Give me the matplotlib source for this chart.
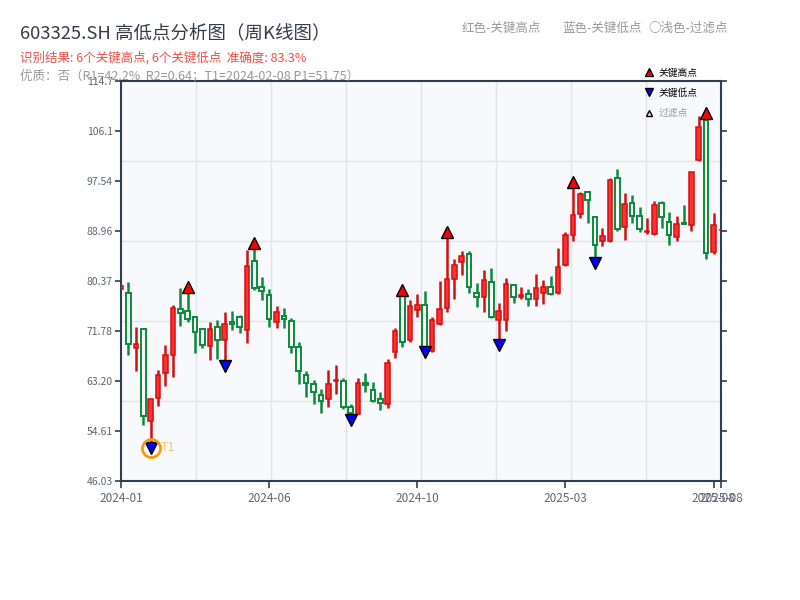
import numpy as np
import matplotlib
matplotlib.use('Agg')
import matplotlib.pyplot as plt
from matplotlib.lines import Line2D
from matplotlib.ticker import FixedLocator, FuncFormatter

plt.rcParams['font.family'] = ['Noto Sans CJK SC', 'DejaVu Sans']

# 周K线数据 (索引 0..81)
opens = [79.05, 78.25, 68.82, 72.07, 56.27, 60.22, 64.51, 67.60, 75.62, 75.16,
         74.13, 72.07, 69.15, 72.53, 70.24, 73.25, 74.13, 71.90, 83.86, 79.28,
         77.91, 73.27, 74.30, 73.44, 68.98, 64.28, 62.63, 60.74, 60.05, 63.20,
         63.14, 58.73, 57.47, 62.80, 61.60, 60.05, 59.19, 68.24, 77.85, 70.18,
         75.33, 76.19, 68.29, 72.93, 75.68, 80.66, 83.69, 85.00, 78.37, 77.57,
         80.20, 73.62, 73.62, 79.74, 77.57, 78.20, 77.22, 78.25, 79.28, 78.25,
         83.12, 88.21, 91.82, 95.60, 91.42, 87.18, 87.18, 98.11, 89.59, 93.82,
         91.59, 88.78, 88.50, 93.70, 90.44, 87.98, 90.39, 89.99, 101.15, 108.00,
         85.41, 89.10]
highs = [79.60, 80.14, 72.41, 72.07, 60.05, 65.09, 69.38, 76.25, 79.11, 79.30,
         74.36, 72.07, 73.33, 73.67, 75.05, 75.22, 74.53, 85.69, 86.85, 81.00,
         78.94, 76.08, 75.68, 73.96, 69.84, 64.97, 63.31, 61.77, 65.03, 66.00,
         63.66, 59.19, 63.66, 64.57, 62.97, 61.31, 66.98, 72.30, 78.90, 77.11,
         78.14, 78.65, 74.13, 80.37, 88.75, 84.15, 85.46, 85.52, 80.03, 82.26,
         82.55, 76.53, 80.83, 79.86, 79.40, 78.94, 81.57, 80.54, 81.23, 86.04,
         88.84, 97.30, 95.65, 95.88, 91.42, 89.41, 98.00, 99.54, 95.42, 95.08,
         93.13, 91.19, 94.11, 94.11, 92.16, 91.47, 93.42, 99.10, 108.76, 109.20,
         91.99, 89.70]
lows = [79.00, 67.72, 64.97, 55.64, 51.75, 58.96, 62.40, 63.94, 72.70, 73.39,
        68.06, 68.81, 66.80, 67.03, 65.80, 71.95, 71.50, 69.78, 78.83, 77.10,
        72.53, 72.36, 72.36, 68.06, 62.63, 60.51, 59.19, 57.76, 58.73, 61.02,
        58.39, 56.50, 57.47, 61.37, 59.53, 58.22, 58.62, 67.20, 69.10, 69.90,
        74.25, 68.18, 68.10, 72.80, 75.10, 77.34, 81.46, 78.37, 75.96, 75.10,
        74.00, 69.45, 71.73, 76.53, 77.28, 76.13, 76.13, 76.36, 78.02, 78.20,
        83.00, 87.30, 91.25, 90.27, 83.45, 86.44, 87.00, 89.01, 87.47, 90.39,
        88.78, 88.50, 88.27, 89.53, 86.61, 87.30, 90.10, 89.01, 101.03, 84.20,
        85.00, 88.60]
closes = [79.55, 69.55, 69.49, 57.19, 60.05, 64.17, 67.60, 75.73, 74.87, 73.90,
          71.61, 69.38, 72.07, 70.24, 72.93, 73.00, 72.41, 82.95, 79.11, 78.60,
          73.79, 75.05, 73.90, 68.98, 64.86, 62.80, 61.25, 59.76, 62.63, 63.35,
          58.68, 57.65, 62.80, 62.50, 59.82, 59.36, 66.29, 71.73, 69.84, 76.02,
          76.19, 68.98, 73.62, 75.56, 80.66, 83.06, 84.66, 79.34, 77.57, 80.54,
          74.19, 75.16, 79.80, 77.68, 77.91, 77.22, 79.11, 79.40, 78.20, 82.72,
          88.21, 91.65, 95.25, 94.22, 86.49, 88.15, 97.71, 89.36, 93.53, 91.47,
          89.30, 89.01, 93.36, 91.30, 88.21, 90.16, 90.16, 99.09, 106.76, 85.12,
          89.93, 89.20]

key_high_idx = [9, 18, 38, 44, 61, 79]
key_low_idx = [4, 14, 31, 41, 51, 64]
t1_idx = 4

tick_idx = [0, 20, 40, 60, 80, 81]
tick_labels = ['2024-01', '2024-06', '2024-10', '2025-03', '2025-08', '2025-08']

ymin, ymax = 46.028, 114.712

bg = '#f7f9fc'
up_face, up_edge = '#ff3030', '#d40f0f'
down_edge = '#0a8a3a'
navy = '#2c3e50'

fig = plt.figure(figsize=(8, 6), dpi=100)
ax = fig.add_axes([121 / 800, 1 - 481 / 600, 600 / 800, 400 / 600])
ax.set_facecolor(bg)

x = np.arange(len(opens))
o = np.array(opens)
c = np.array(closes)
h = np.array(highs)
l = np.array(lows)
up = c >= o

# 影线
ax.vlines(x[up], l[up], h[up], color=up_edge, lw=1.8, zorder=2)
ax.vlines(x[~up], l[~up], h[~up], color=down_edge, lw=1.8, zorder=2)

# 实体: 阳线实心红, 阴线空心绿
bottom = np.minimum(o, c)
height = np.maximum(np.abs(c - o), 0.08)
ax.bar(x[up], height[up], 0.62, bottom=bottom[up], color=up_face,
       edgecolor=up_edge, linewidth=1.1, zorder=3)
ax.bar(x[~up], height[~up], 0.62, bottom=bottom[~up], color=bg,
       edgecolor=down_edge, linewidth=1.4, zorder=3)

# 关键高低点
ax.plot(key_high_idx, [highs[i] for i in key_high_idx], '^', ms=9,
        mfc='red', mec='black', mew=1, ls='', zorder=5)
ax.plot(key_low_idx, [lows[i] for i in key_low_idx], 'v', ms=9,
        mfc='blue', mec='black', mew=1, ls='', zorder=5)

# T1 标记
ax.plot(t1_idx, lows[t1_idx], 'o', ms=13, mfc='none', mec='#f39c12',
        mew=2, zorder=6)
ax.text(t1_idx + 1.4, lows[t1_idx], 'T1', color='#f8c471', fontsize=9,
        va='center', ha='left', zorder=6)

ax.set_xlim(0, len(opens) - 1)
ax.set_ylim(ymin, ymax)

ax.yaxis.set_major_locator(FixedLocator(np.linspace(ymin, ymax, 9)))
ax.yaxis.set_major_formatter(FuncFormatter(lambda v, p: f"{v:#.4g}"))
ax.set_xticks(tick_idx)
ax.set_xticklabels(tick_labels)

# 网格: 纵向8等分, 横向5等分
ax.xaxis.set_minor_locator(FixedLocator(np.linspace(0, len(opens) - 1, 9)))
ax.yaxis.set_minor_locator(FixedLocator(np.linspace(ymin, ymax, 6)))
ax.grid(False, which='major')
ax.grid(True, which='minor', color='#e1e5eb', lw=1)
ax.set_axisbelow(True)

ax.tick_params(axis='both', which='minor', length=0)
ax.tick_params(axis='y', which='major', right=True, length=4, width=1.2,
               color=navy, labelcolor='#5f6673', labelsize=7.5, pad=2)
ax.tick_params(axis='x', which='major', length=5, width=1.2, color=navy,
               labelcolor='#5f6673', labelsize=8.5, pad=3)
for sp in ax.spines.values():
    sp.set_color(navy)
    sp.set_linewidth(1.5)

handles = [
    Line2D([], [], marker='^', ls='', mfc='red', mec='black', ms=6, label='关键高点'),
    Line2D([], [], marker='v', ls='', mfc='blue', mec='black', ms=6, label='关键低点'),
    Line2D([], [], marker='^', ls='', mfc='#ffe0e0', mec='black', ms=5, label='过滤点'),
]
leg = ax.legend(handles=handles, loc='upper left', bbox_to_anchor=(0.865, 1.043),
                frameon=False, fontsize=7, handlelength=1, handletextpad=0.5,
                labelspacing=1.05, borderaxespad=0)
leg.get_texts()[2].set_color('#999999')

fig.text(0.025, 1 - 33 / 600, '603325.SH 高低点分析图（周K线图）', fontsize=13.3,
         color='#333d4a', va='center', ha='left')
fig.text(0.025, 1 - 58 / 600, '识别结果: 6个关键高点, 6个关键低点  准确度: 83.3%',
         fontsize=9, color='#ec4f45', va='center', ha='left')
fig.text(0.025, 1 - 76 / 600,
         '优质：否（R1=42.2%  R2=0.64；T1=2024-02-08 P1=51.75）',
         fontsize=9, color='#999999', va='center', ha='left')

# 右上角说明
fig.text(462 / 800, 1 - 28 / 600, '红色-关键高点', fontsize=9, color='#999999',
         va='center', ha='left')
fig.text(562 / 800, 1 - 28 / 600, '蓝色-关键低点', fontsize=9, color='#999999',
         va='center', ha='left')
fig.text(648 / 800, 1 - 28 / 600, '○浅色-过滤点', fontsize=9, color='#999999',
         va='center', ha='left')

fig.savefig('out.png', dpi=100)
